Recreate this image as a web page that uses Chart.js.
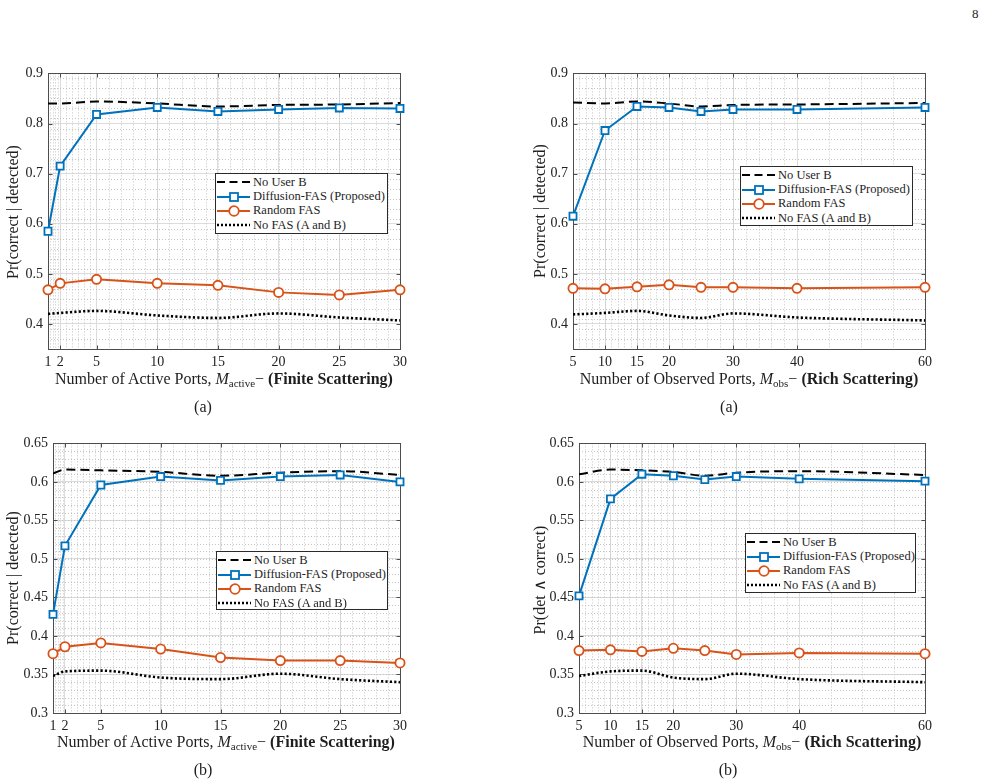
<!DOCTYPE html>
<html><head><meta charset="utf-8">
<script src="https://cdn.jsdelivr.net/npm/chart.js@4/dist/chart.umd.min.js"></script>
<style>
html,body{margin:0;padding:0;background:#fff}
body{width:989px;height:783px;position:relative;overflow:hidden;font-family:"Liberation Serif","Times New Roman",serif;color:#1e1e1e}
.holder{position:absolute}
.xt{position:absolute;white-space:nowrap;font-size:16px;line-height:16px;transform:translateX(-50%)}
.xt sub{font-size:11px;line-height:0;vertical-align:-3px}
.yt{position:absolute;white-space:nowrap;font-size:16px;line-height:16px;transform:translate(-50%,-50%) rotate(-90deg)}
.cap{position:absolute;font-size:16px;line-height:16px;transform:translate(-50%,-50%)}
.legend{position:absolute;background:#fff;border:1px solid #2a2a2a;box-sizing:border-box;padding-top:1px}
.legend .row{height:14.4px;display:flex;align-items:center;font-size:12.5px;white-space:nowrap}
.legend svg{margin-left:1px;margin-right:2px;flex:none}
.pg{position:absolute;left:972px;top:6px;font-size:13px}
</style>
</head><body>
<div class="pg">8</div>

<div class="holder" style="left:0;top:60px"><canvas id="c1" width="420" height="340"></canvas></div>
<div class="holder" style="left:500px;top:60px"><canvas id="c2" width="440" height="340"></canvas></div>
<div class="holder" style="left:0;top:430px"><canvas id="c3" width="420" height="340"></canvas></div>
<div class="holder" style="left:500px;top:430px"><canvas id="c4" width="440" height="340"></canvas></div>

<div class="yt" style="left:13px;top:212px">Pr(correct | detected)</div>
<div class="yt" style="left:540px;top:211px">Pr(correct | detected)</div>
<div class="yt" style="left:13px;top:578px">Pr(correct | detected)</div>
<div class="yt" style="left:540px;top:580px">Pr(det ∧ correct)</div>

<div class="xt" style="left:224px;top:371px">Number of Active Ports, <i>M</i><sub>active</sub>− <b>(Finite Scattering)</b></div>
<div class="xt" style="left:749px;top:371px">Number of Observed Ports, <i>M</i><sub>obs</sub>− <b>(Rich Scattering)</b></div>
<div class="xt" style="left:226px;top:734px">Number of Active Ports, <i>M</i><sub>active</sub>− <b>(Finite Scattering)</b></div>
<div class="xt" style="left:752px;top:734px">Number of Observed Ports, <i>M</i><sub>obs</sub>− <b>(Rich Scattering)</b></div>

<div class="cap" style="left:203px;top:407px">(a)</div>
<div class="cap" style="left:729px;top:407px">(a)</div>
<div class="cap" style="left:203px;top:770px">(b)</div>
<div class="cap" style="left:728px;top:770px">(b)</div>

<div class="legend" id="lg1" style="left:215px;top:173px;width:173px;height:61px"></div>
<div class="legend" id="lg2" style="left:740px;top:166px;width:173px;height:60px"></div>
<div class="legend" id="lg3" style="left:216px;top:551px;width:172px;height:59px"></div>
<div class="legend" id="lg4" style="left:745px;top:533px;width:171px;height:60px"></div>

<script>
// ---------------- data ----------------
const seriesNames = ["No User B", "Diffusion-FAS (Proposed)", "Random FAS", "No FAS (A and B)"];

const xActive   = [1, 2, 5, 10, 15, 20, 25, 30];
const xObserved = [5, 10, 15, 20, 25, 30, 40, 60];

const xTickLabelsActive   = [1, 2, 5, 10, 15, 20, 25, 30];
const xTickLabelsObserved = [5, 10, 15, 20, 30, 40, 60];
const yTickLabelsTop    = [0.4, 0.5, 0.6, 0.7, 0.8, 0.9];
const yTickLabelsBottom = [0.3, 0.35, 0.4, 0.45, 0.5, 0.55, 0.6, 0.65];

// (a) left: Pr(correct | detected) vs active ports
const aActiveNoUserB    = [0.840, 0.840, 0.844, 0.840, 0.834, 0.837, 0.838, 0.841];
const aActiveDiffusion  = [0.585, 0.715, 0.818, 0.832, 0.824, 0.828, 0.831, 0.830];
const aActiveRandom     = [0.468, 0.481, 0.489, 0.481, 0.477, 0.463, 0.458, 0.468];
const aActiveNoFAS      = [0.420, 0.422, 0.426, 0.417, 0.412, 0.421, 0.413, 0.407];

// (a) right: Pr(correct | detected) vs observed ports
const aObservedNoUserB   = [0.842, 0.840, 0.844, 0.840, 0.834, 0.837, 0.838, 0.841];
const aObservedDiffusion = [0.615, 0.786, 0.834, 0.832, 0.824, 0.828, 0.828, 0.832];
const aObservedRandom    = [0.471, 0.470, 0.474, 0.478, 0.473, 0.473, 0.471, 0.473];
const aObservedNoFAS     = [0.419, 0.422, 0.426, 0.417, 0.412, 0.421, 0.413, 0.407];

// (b) left: Pr(correct | detected) vs active ports
const bActiveNoUserB    = [0.611, 0.616, 0.615, 0.613, 0.608, 0.612, 0.614, 0.609];
const bActiveDiffusion  = [0.428, 0.517, 0.596, 0.607, 0.602, 0.607, 0.609, 0.600];
const bActiveRandom     = [0.377, 0.386, 0.391, 0.383, 0.372, 0.368, 0.368, 0.365];
const bActiveNoFAS      = [0.348, 0.354, 0.355, 0.346, 0.344, 0.351, 0.344, 0.340];

// (b) right: Pr(det ∧ correct) vs observed ports
const bObservedNoUserB   = [0.610, 0.616, 0.615, 0.613, 0.608, 0.612, 0.614, 0.609];
const bObservedDiffusion = [0.452, 0.578, 0.610, 0.608, 0.603, 0.607, 0.604, 0.601];
const bObservedRandom    = [0.381, 0.382, 0.380, 0.384, 0.381, 0.376, 0.378, 0.377];
const bObservedNoFAS     = [0.348, 0.354, 0.355, 0.346, 0.344, 0.351, 0.344, 0.340];

// ---------------- styling ----------------
const FONT = '"Liberation Serif", "Times New Roman", serif';
const BLUE = '#0072BD', ORANGE = '#D95319';

function minorList(segs){
  const out = [];
  segs.forEach(([a,b,s]) => { for (let v = a + s; v < b - 1e-9; v += s) out.push(+v.toFixed(4)); });
  return out;
}

const matlabAxes = {
  id: 'matlabAxes',
  beforeDatasetsDraw(chart, args, opts) {
    const {ctx, chartArea: a} = chart;
    const x = chart.scales.x, y = chart.scales.y;
    ctx.save();
    ctx.beginPath(); ctx.rect(a.left, a.top, a.right - a.left, a.bottom - a.top); ctx.clip();
    ctx.strokeStyle = '#c4c4c4'; ctx.lineWidth = 1; ctx.setLineDash([1, 2]);
    ctx.beginPath();
    (opts.minorX || []).forEach(v => { const p = Math.round(x.getPixelForValue(v)) + 0.5; ctx.moveTo(p, a.top); ctx.lineTo(p, a.bottom); });
    (opts.minorY || []).forEach(v => { const p = Math.round(y.getPixelForValue(v)) + 0.5; ctx.moveTo(a.left, p); ctx.lineTo(a.right, p); });
    ctx.stroke();
    ctx.restore();

    ctx.save();
    ctx.strokeStyle = '#4d4d4d'; ctx.lineWidth = 1; ctx.setLineDash([]);
    const L = Math.round(a.left) + 0.5, R = Math.round(a.right) + 0.5, T = Math.round(a.top) + 0.5, B = Math.round(a.bottom) + 0.5;
    ctx.strokeRect(L, T, R - L, B - T);
    ctx.beginPath();
    const tl = 4;
    x.ticks.forEach(t => { const p = Math.round(x.getPixelForValue(t.value)) + 0.5; ctx.moveTo(p, B); ctx.lineTo(p, B - tl); ctx.moveTo(p, T); ctx.lineTo(p, T + tl); });
    y.ticks.forEach(t => { const p = Math.round(y.getPixelForValue(t.value)) + 0.5; ctx.moveTo(L, p); ctx.lineTo(L + tl, p); ctx.moveTo(R, p); ctx.lineTo(R - tl, p); });
    ctx.stroke();
    ctx.restore();
  }
};

function pts(xs, ys){ return xs.map((v, i) => ({x: v, y: ys[i]})); }

function makeChart(id, c) {
  const datasets = [
    {label: seriesNames[1], data: pts(c.xs, c.diff), borderColor: BLUE, borderWidth: 2, pointStyle: 'rect', pointRadius: 5, pointBackgroundColor: '#fff', pointBorderColor: BLUE, pointBorderWidth: 1.8, clip: false, order: 1},
    {label: seriesNames[2], data: pts(c.xs, c.rand), borderColor: ORANGE, borderWidth: 2, pointStyle: 'circle', pointRadius: 4.6, pointBackgroundColor: '#fff', pointBorderColor: ORANGE, pointBorderWidth: 1.8, clip: false, order: 0},
    {label: seriesNames[0], data: pts(c.xs, c.noB), borderColor: '#000', borderWidth: 2, borderDash: [9, 5], pointRadius: 0, cubicInterpolationMode: 'monotone', order: 2},
    {label: seriesNames[3], data: pts(c.xs, c.noFAS), borderColor: '#000', borderWidth: 2.6, borderDash: [2.2, 2.2], pointRadius: 0, cubicInterpolationMode: 'monotone', order: 3}
  ];
  return new Chart(document.getElementById(id), {
    type: 'line',
    data: {datasets},
    options: {
      responsive: false, animation: false, devicePixelRatio: 1,
      layout: {padding: {top: c.padTop, right: c.padRight, left: 0, bottom: 0}},
      plugins: {legend: {display: false}, tooltip: {enabled: false}, matlabAxes: {minorX: c.minorX, minorY: c.minorY}},
      scales: {
        x: {
          type: 'linear', min: c.xmin, max: c.xmax,
          afterBuildTicks: s => { s.ticks = c.xticks.map(v => ({value: v})); },
          afterFit: s => { s.height = c.xH; },
          ticks: {autoSkip: false, maxRotation: 0, padding: 5, color: '#222', font: {family: FONT, size: 14}, callback: v => String(v)},
          grid: {color: '#dcdcdc', lineWidth: 1, drawTicks: false},
          border: {display: false}
        },
        y: {
          type: 'linear', min: c.ymin, max: c.ymax,
          afterBuildTicks: s => { s.ticks = c.yticks.map(v => ({value: v})); },
          afterFit: s => { s.width = c.yW; },
          ticks: {autoSkip: false, padding: 5, color: '#222', font: {family: FONT, size: 14}, callback: v => String(parseFloat(Number(v).toFixed(2)))},
          grid: {color: '#dcdcdc', lineWidth: 1, drawTicks: false},
          border: {display: false}
        }
      }
    },
    plugins: [matlabAxes]
  });
}

const minorXActive = minorList([[1,2,0.2],[2,5,0.5],[5,30,1]]);
const minorXObserved = minorList([[5,20,1],[20,40,2],[40,60,5]]);
const minorYTop = minorList([[0.35,0.9,0.02]]);
const minorYBottom = minorList([[0.3,0.65,0.01]]);

makeChart('c1', {xs: xActive, diff: aActiveDiffusion, rand: aActiveRandom, noB: aActiveNoUserB, noFAS: aActiveNoFAS,
  xmin: 1, xmax: 30, ymin: 0.35, ymax: 0.9, xticks: xTickLabelsActive, yticks: yTickLabelsTop,
  minorX: minorXActive, minorY: minorYTop, padTop: 13, padRight: 20, yW: 48, xH: 51});
makeChart('c2', {xs: xObserved, diff: aObservedDiffusion, rand: aObservedRandom, noB: aObservedNoUserB, noFAS: aObservedNoFAS,
  xmin: 5, xmax: 60, ymin: 0.35, ymax: 0.9, xticks: xTickLabelsObserved, yticks: yTickLabelsTop,
  minorX: minorXObserved, minorY: minorYTop, padTop: 13, padRight: 15, yW: 73, xH: 51});
makeChart('c3', {xs: xActive, diff: bActiveDiffusion, rand: bActiveRandom, noB: bActiveNoUserB, noFAS: bActiveNoFAS,
  xmin: 1, xmax: 30, ymin: 0.3, ymax: 0.65, xticks: xTickLabelsActive, yticks: yTickLabelsBottom,
  minorX: minorXActive, minorY: minorYBottom, padTop: 10, padRight: 20, yW: 53, xH: 57});
makeChart('c4', {xs: xObserved, diff: bObservedDiffusion, rand: bObservedRandom, noB: bObservedNoUserB, noFAS: bObservedNoFAS,
  xmin: 5, xmax: 60, ymin: 0.3, ymax: 0.65, xticks: xTickLabelsObserved, yticks: yTickLabelsBottom,
  minorX: minorXObserved, minorY: minorYBottom, padTop: 10, padRight: 15, yW: 79, xH: 57});

// ---------------- legends (HTML) ----------------
const legendSamples = [
  '<line x1="0" y1="7" x2="33" y2="7" stroke="#000" stroke-width="2" stroke-dasharray="8 4.5"/>',
  '<line x1="0" y1="7" x2="33" y2="7" stroke="' + BLUE + '" stroke-width="2"/><rect x="13" y="3" width="8" height="8" fill="#fff" stroke="' + BLUE + '" stroke-width="1.8"/>',
  '<line x1="0" y1="7" x2="33" y2="7" stroke="' + ORANGE + '" stroke-width="2"/><circle cx="17" cy="7" r="4.8" fill="#fff" stroke="' + ORANGE + '" stroke-width="1.8"/>',
  '<line x1="0" y1="7" x2="33" y2="7" stroke="#000" stroke-width="2.6" stroke-dasharray="2 2"/>'
];
['lg1','lg2','lg3','lg4'].forEach(id => {
  document.getElementById(id).innerHTML = seriesNames.map((n, i) =>
    '<div class="row"><svg width="34" height="14">' + legendSamples[i] + '</svg><span>' + n + '</span></div>').join('');
});
</script>
</body></html>
